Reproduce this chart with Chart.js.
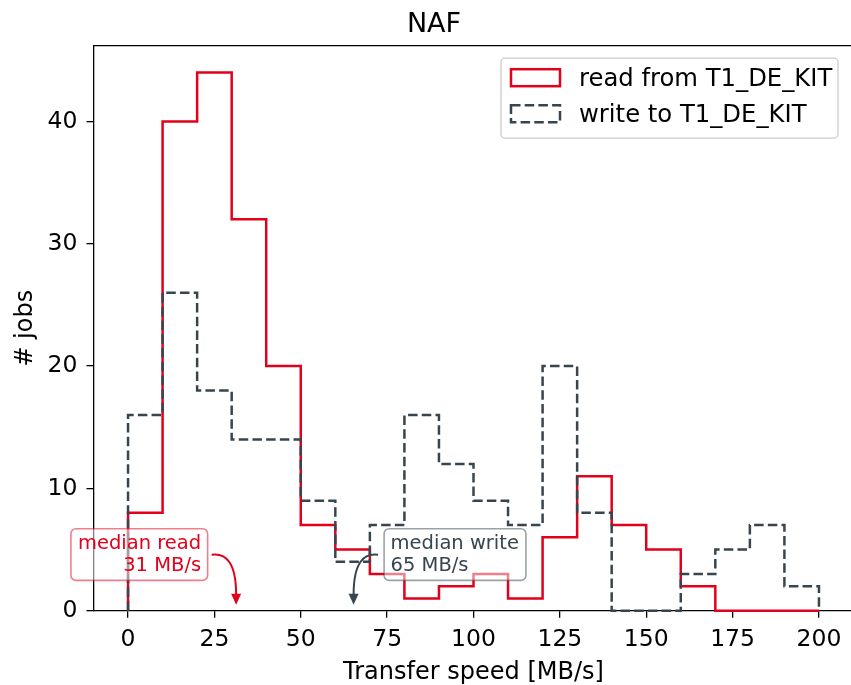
<!DOCTYPE html>
<html><head><meta charset="utf-8">
<script src="https://cdn.jsdelivr.net/npm/chart.js@4/dist/chart.umd.min.js"></script>
<style>
html,body{margin:0;padding:0;overflow:hidden;background:#fff;width:851px;height:685px}
#wrap{position:absolute;left:0;top:0;width:860px;height:685px}
canvas{display:block}
</style>
</head><body><div id="wrap"><canvas id="c" width="860" height="685"></canvas></div>
<script>
// ---- data ----
const binEdges = [0,10,20,30,40,50,60,70,80,90,100,110,120,130,140,150,160,170,180,190,200];
const readCounts  = [8,40,44,32,20,7,5,3,1,2,3,1,6,11,7,5,2,0,0,0];
const writeCounts = [16,26,18,14,14,9,4,7,16,12,9,7,20,8,0,0,3,5,7,2];
const xTicks = [0,25,50,75,100,125,150,175,200];
const yTicks = [0,10,20,30,40];
const seriesLabels = ['read from T1_DE_KIT','write to T1_DE_KIT'];
const titleText = 'NAF';
const xTitle = 'Transfer speed [MB/s]';
const yTitle = '# jobs';
const medianRead = 31;
const medianWrite = 65;
const medianReadLabel = ['median read','31 MB/s'];
const medianWriteLabel = ['median write','65 MB/s'];

// ---- styles ----
const RED = '#e2001a';
const GREY = '#37454f';
const FONT = "'DejaVu Sans', sans-serif";
const LW = 2.5;
const DASH = [9.5, 4.2];

function stepPoints(counts){
  const pts = [{x: binEdges[0], y: 0}];
  counts.forEach((c, i) => pts.push({x: binEdges[i+1], y: c}));
  pts.push({x: binEdges[binEdges.length-1], y: 0});
  return pts;
}

const overlay = {
  id: 'overlay',
  afterDraw(chart){
    const ctx = chart.ctx, ca = chart.chartArea;
    const xs = chart.scales.x, ys = chart.scales.y;
    ctx.save();
    // top spine & right spine
    ctx.strokeStyle = '#000'; ctx.lineWidth = 1.3;
    ctx.beginPath(); ctx.moveTo(ca.left, ca.top); ctx.lineTo(ca.right, ca.top); ctx.lineTo(ca.right, ca.bottom); ctx.stroke();
    // title
    ctx.fillStyle = '#000'; ctx.font = '27px ' + FONT; ctx.textAlign = 'center'; ctx.textBaseline = 'alphabetic';
    ctx.fillText(titleText, 434, 32.3);
    // axis titles
    ctx.font = '24px ' + FONT;
    ctx.fillText(xTitle, (ca.left + ca.right)/2, 679);
    ctx.save(); ctx.translate(32, (ca.top + ca.bottom)/2); ctx.rotate(-Math.PI/2);
    ctx.fillText(yTitle, 0, 0); ctx.restore();

    // legend
    const lx0 = ca.right - 352.5, lx1 = ca.right - 15.5, ly0 = ca.top + 12.5, ly1 = ca.top + 92.5;
    ctx.beginPath(); ctx.roundRect(lx0, ly0, lx1 - lx0, ly1 - ly0, 4);
    ctx.fillStyle = 'rgba(255,255,255,0.8)'; ctx.fill();
    ctx.strokeStyle = '#cccccc'; ctx.lineWidth = 1.3; ctx.stroke();
    const dsets = chart.data.datasets;
    const rows = [0, 1];
    rows.forEach((r, i) => {
      const ds = dsets.find(d => d.label === seriesLabels[r]);
      const py = ly0 + 11 + i*36;
      ctx.strokeStyle = ds.borderColor; ctx.lineWidth = LW;
      ctx.setLineDash(ds.borderDash || []);
      ctx.strokeRect(lx0 + 10, py, 49, 17);
      ctx.setLineDash([]);
      ctx.fillStyle = '#000'; ctx.font = '24.3px ' + FONT; ctx.textAlign = 'left';
      ctx.fillText(ds.label, lx0 + 78, py + 17);
    });

    // annotations
    function annotate(value, lines, color, edge, side){
      const tipX = xs.getPixelForValue(value) + 1;
      const tipY = ys.getPixelForValue(0) - 6;
      ctx.font = '19.5px ' + FONT;
      const w = Math.max(...lines.map(l => ctx.measureText(l).width));
      const b1 = tipY - 56, b2 = tipY - 34;
      let tx, bx;
      if (side < 0){ tx = tipX - 35; bx = tx - w - 7; ctx.textAlign = 'right'; }
      else { tx = tipX + 37; bx = tx - 6.5; ctx.textAlign = 'left'; }
      ctx.beginPath(); ctx.roundRect(bx, b1 - 20, w + 13.5, 51.7, 5);
      ctx.fillStyle = 'rgba(255,255,255,0.5)'; ctx.fill();
      ctx.strokeStyle = edge; ctx.lineWidth = 1.6; ctx.stroke();
      ctx.fillStyle = color;
      ctx.fillText(lines[0], tx, b1);
      ctx.fillText(lines[1], tx, b2);
      // arrow
      const sx = tipX + side*24.5, sy = tipY - 50;
      const endY = tipY - 10;
      ctx.strokeStyle = color; ctx.lineWidth = 2;
      ctx.beginPath(); ctx.moveTo(sx, sy);
      ctx.bezierCurveTo(tipX + side*10, sy - 2, tipX, sy + 8, tipX, endY);
      ctx.stroke();
      ctx.fillStyle = color;
      ctx.beginPath(); ctx.moveTo(tipX, tipY); ctx.lineTo(tipX - 5, endY - 1); ctx.lineTo(tipX + 5, endY - 1); ctx.closePath(); ctx.fill();
    }
    annotate(medianRead, medianReadLabel, RED, 'rgba(226,0,26,0.5)', -1);
    annotate(medianWrite, medianWriteLabel, GREY, 'rgba(55,69,79,0.5)', 1);
    ctx.restore();
  }
};

Chart.defaults.font.family = FONT;
Chart.defaults.color = '#000';

new Chart(document.getElementById('c'), {
  type: 'line',
  data: {
    datasets: [
      { label: seriesLabels[1], data: stepPoints(writeCounts), borderColor: GREY, borderWidth: LW,
        borderDash: DASH, stepped: 'after', pointRadius: 0, fill: false, clip: false, order: 0 },
      { label: seriesLabels[0], data: stepPoints(readCounts), borderColor: RED, borderWidth: LW,
        stepped: 'after', pointRadius: 0, fill: false, clip: false, order: 1 }
    ]
  },
  options: {
    responsive: false,
    animation: false,
    devicePixelRatio: 1,
    layout: { padding: { left: 0, right: 6.5, top: 45.7, bottom: 0 } },
    plugins: { legend: { display: false }, title: { display: false }, tooltip: { enabled: false } },
    scales: {
      x: {
        type: 'linear', min: -10, max: 210,
        afterBuildTicks: s => { s.ticks = xTicks.map(v => ({value: v})); },
        afterFit: s => { s.height = 685 - 610.7; },
        grid: { display: true, drawOnChartArea: false, drawTicks: true, tickLength: 7, color: '#000', lineWidth: 1.3 },
        border: { display: true, color: '#000', width: 1.3 },
        ticks: { font: { size: 23.5 }, padding: 8, maxRotation: 0, autoSkip: false, color: '#000' }
      },
      y: {
        type: 'linear', min: 0, max: 46.2,
        afterBuildTicks: s => { s.ticks = yTicks.map(v => ({value: v})); },
        afterFit: s => { s.width = 93.5; },
        grid: { display: true, drawOnChartArea: false, drawTicks: true, tickLength: 7, color: '#000', lineWidth: 1.3 },
        border: { display: true, color: '#000', width: 1.3 },
        ticks: { font: { size: 23.5 }, padding: 9, autoSkip: false, color: '#000' }
      }
    }
  },
  plugins: [overlay]
});
</script>
</body></html>
